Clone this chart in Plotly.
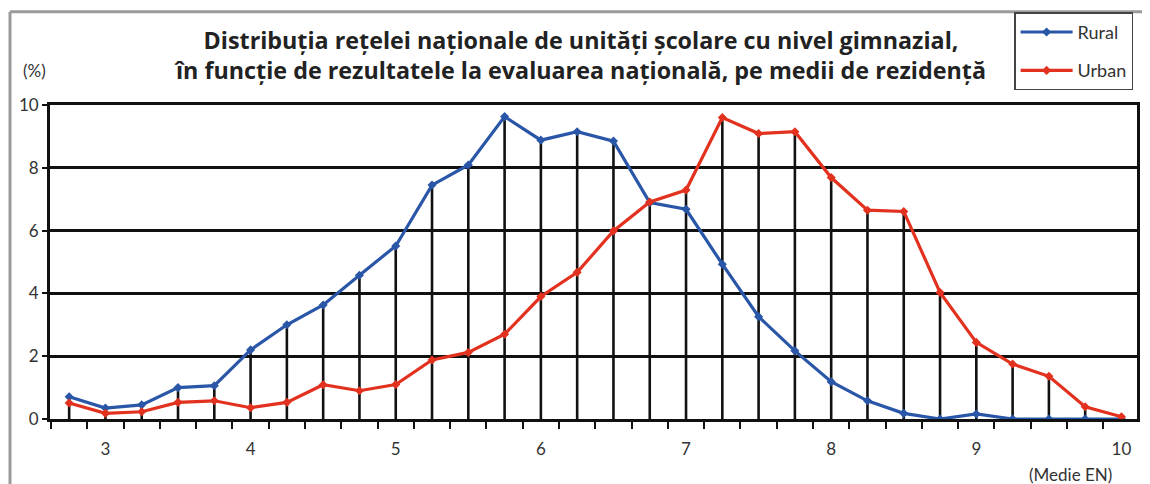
import plotly.graph_objects as go

# medie la evaluarea nationala (categorii)
medie = [2.75, 3.0, 3.25, 3.5, 3.75, 4.0, 4.25, 4.5, 4.75, 5.0,
         5.25, 5.5, 5.75, 6.0, 6.25, 6.5, 6.75, 7.0, 7.25, 7.5,
         7.75, 8.0, 8.25, 8.5, 8.75, 9.0, 9.25, 9.5, 9.75, 10.0]

rural = [0.71, 0.35, 0.45, 1.0, 1.06, 2.2, 3.0, 3.63, 4.58, 5.51,
         7.45, 8.09, 9.63, 8.88, 9.15, 8.85, 6.89, 6.68, 4.93, 3.26,
         2.17, 1.19, 0.58, 0.18, 0.0, 0.16, 0.0, 0.0, 0.0, 0.0]

urban = [0.51, 0.18, 0.23, 0.53, 0.58, 0.36, 0.53, 1.09, 0.9, 1.1,
         1.88, 2.12, 2.7, 3.9, 4.67, 5.99, 6.91, 7.29, 9.6, 9.09,
         9.15, 7.69, 6.65, 6.61, 4.03, 2.44, 1.75, 1.36, 0.39, 0.07]

x_ticks = [3, 4, 5, 6, 7, 8, 9, 10]
y_ticks = [0, 2, 4, 6, 8, 10]

FONT = "Lato"
TITLE_FONT = "Open Sans"
BLUE = "#2a56a8"
RED = "#e2321f"

# drop lines from the highest of the two series down to 0
drop_x, drop_y = [], []
for x, r, u in zip(medie, rural, urban):
    drop_x += [x, x, None]
    drop_y += [0, max(r, u), None]

fig = go.Figure()
fig.add_trace(go.Scatter(
    x=drop_x, y=drop_y, mode="lines",
    line=dict(color="#111111", width=2.6),
    showlegend=False, hoverinfo="skip"
))
fig.add_trace(go.Scatter(
    x=medie, y=rural, mode="lines+markers", name="Rural",
    line=dict(color=BLUE, width=3.2),
    marker=dict(symbol="diamond", size=7, color=BLUE),
    legendgroup="r"
))
fig.add_trace(go.Scatter(
    x=medie, y=urban, mode="lines+markers", name="Urban",
    line=dict(color=RED, width=3.2),
    marker=dict(symbol="diamond", size=7, color=RED),
    legendgroup="u"
))

# page has an 8px body margin, so the figure is 8px smaller
fig.update_layout(
    width=1142, height=476,
    margin=dict(l=42, r=13, t=97, b=65, autoexpand=False),
    paper_bgcolor="white", plot_bgcolor="white",
    font=dict(family=FONT, size=17, color="#333333"),
    legend=dict(
        xref="container", yref="container",
        x=0.881, y=0.991, xanchor="left", yanchor="top",
        bordercolor="#444444", borderwidth=1.5,
        font=dict(family=FONT, size=18, color="#333333"),
        tracegroupgap=12, traceorder="grouped",
        itemwidth=52
    ),
    showlegend=True,
)

fig.update_xaxes(
    range=[2.618, 10.107],
    tickvals=x_ticks, ticktext=[str(v) for v in x_ticks],
    ticks="", showgrid=False, zeroline=False,
    showline=True, linecolor="#111111", linewidth=2.8, mirror=True,
    tickfont=dict(family=FONT, size=17, color="#333333"),
    ticklabelstandoff=13,
    minor=dict(tickmode="linear", tick0=2.875, dtick=0.25,
               ticks="outside", ticklen=7, tickwidth=2.4,
               tickcolor="#111111", showgrid=False),
)
fig.update_yaxes(
    range=[0, 10], tickvals=y_ticks,
    ticks="outside", ticklen=5, tickwidth=2.4, tickcolor="#111111",
    showgrid=True, gridcolor="#111111", gridwidth=2.6,
    zeroline=False,
    showline=True, linecolor="#111111", linewidth=2.8, mirror=True,
    tickfont=dict(family=FONT, size=17, color="#333333"),
)

# outer gray frame (top and left)
fig.add_shape(type="line", xref="paper", yref="paper",
              x0=-0.0368, x1=1.02, y0=1.297, y1=1.297,
              line=dict(color="#9a9a9a", width=3))
fig.add_shape(type="line", xref="paper", yref="paper",
              x0=-0.0368, x1=-0.0368, y0=-0.3, y1=1.297,
              line=dict(color="#9a9a9a", width=3))

fig.add_annotation(
    text="<b>Distribuția rețelei naționale de unități școlare cu nivel gimnazial,<br>"
         "în funcție de rezultatele la evaluarea națională, pe medii de rezidență</b>",
    xref="paper", yref="paper", x=0.4876, y=1.158,
    xanchor="center", yanchor="middle", showarrow=False,
    font=dict(family=TITLE_FONT, size=23.3, color="#222222"), align="center"
)
fig.add_annotation(
    text="(%)", xref="paper", yref="paper", x=-0.014, y=1.11,
    xanchor="center", yanchor="middle", showarrow=False,
    font=dict(family=FONT, size=17, color="#333333")
)
fig.add_annotation(
    text="(Medie EN)", xref="paper", yref="paper", x=0.939, y=-0.178,
    xanchor="center", yanchor="middle", showarrow=False,
    font=dict(family=FONT, size=17, color="#333333")
)

fig.write_html("out.html")
